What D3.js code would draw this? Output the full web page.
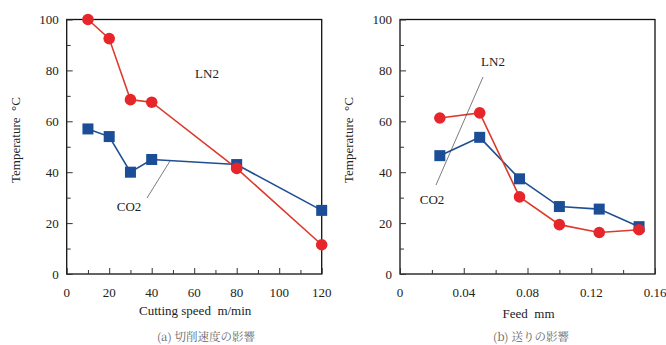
<!DOCTYPE html>
<html>
<head>
<meta charset="utf-8">
<script src="https://cdn.jsdelivr.net/npm/d3@7"></script>
<style>
  body { margin: 0; background: #fff; }
</style>
</head>
<body>
<svg width="666" height="345"></svg>
<script>
// panel (a): cutting speed
var speed = [10, 20, 30, 40, 80, 120];
var speedLN2 = [100, 92.5, 68.5, 67.5, 41.5, 11.5];
var speedCO2 = [57, 54, 40, 45, 43, 25];
var speedTicks = [0, 20, 40, 60, 80, 100, 120];

// panel (b): feed
var feed = [0.025, 0.05, 0.075, 0.1, 0.125, 0.15];
var feedLN2 = [61.3, 63.3, 30.3, 19.4, 16.3, 17.4];
var feedCO2 = [46.5, 53.7, 37.4, 26.5, 25.5, 18.6];
var feedTicks = [0, 0.04, 0.08, 0.12, 0.16];

var tempTicks = [0, 20, 40, 60, 80, 100];

var red = "#e6262a", redLine = "#dc3b2c";
var blue = "#1b4e97", blueLine = "#1f4f92";

var svg = d3.select("svg");

function txt(g) {
  return g.append("text").attr("font-family", "'Liberation Serif'")
    .attr("fill", "#222").attr("font-size", 13);
}

function panel(o) {
  var g = svg.append("g");
  var x = d3.scaleLinear().domain(o.xdom).range([o.left, o.right]);
  var y = d3.scaleLinear().domain([0, 100]).range([274, 19.5]);

  // frame
  g.append("rect")
    .attr("x", o.left).attr("y", 19.5)
    .attr("width", o.right - o.left).attr("height", 274 - 19.5)
    .attr("fill", "none").attr("stroke", "#111").attr("stroke-width", 1.3);

  // ticks pointing inward
  var yAxis = d3.axisLeft(y).tickValues(d3.range(0, 101, 10)).tickSize(-6).tickFormat("");
  g.append("g").attr("transform", "translate(" + o.left + ",0)").call(yAxis)
    .call(a => a.select(".domain").remove())
    .call(a => a.selectAll(".tick line").attr("stroke", "#333")
      .attr("x2", d => d % 20 === 0 ? 6 : 4));
  var xAxis = d3.axisBottom(x).tickValues(o.xminor).tickSize(-6).tickFormat("");
  g.append("g").attr("transform", "translate(0,274)").call(xAxis)
    .call(a => a.select(".domain").remove())
    .call(a => a.selectAll(".tick line").attr("stroke", "#333")
      .attr("y2", d => o.xticks.some(t => Math.abs(t - d) < 1e-9) ? -6 : -4));

  // tick labels
  tempTicks.forEach(d => {
    txt(g).attr("x", o.left - 8).attr("y", y(d) + 4.5)
      .attr("text-anchor", "end").text(d);
  });
  o.xticks.forEach(d => {
    txt(g).attr("x", x(d)).attr("y", 297)
      .attr("text-anchor", "middle").text(o.fmt(d));
  });

  // axis titles
  txt(g).attr("transform", "translate(" + (o.left - 47) + ",140) rotate(-90)")
    .attr("text-anchor", "middle").attr("xml:space", "preserve")
    .text("Temperature  \u00b0C");
  txt(g).attr("x", (o.left + o.right) / 2 + 1).attr("y", o.xlabY)
    .attr("text-anchor", "middle").attr("xml:space", "preserve")
    .text(o.xlabel);
  g.append("text")
    .attr("font-family", "'Noto Serif CJK JP'").attr("fill", "#666")
    .attr("x", o.capX).attr("y", 341)
    .attr("text-anchor", "middle").attr("font-size", 11.5).text(o.caption);

  var line = d3.line().x(d => x(d[0])).y(d => y(d[1]));
  var co2 = o.xs.map((v, i) => [v, o.co2[i]]);
  var ln2 = o.xs.map((v, i) => [v, o.ln2[i]]);

  g.append("path").datum(co2).attr("d", line)
    .attr("fill", "none").attr("stroke", blueLine).attr("stroke-width", 1.6);
  g.append("path").datum(ln2).attr("d", line)
    .attr("fill", "none").attr("stroke", redLine).attr("stroke-width", 1.6);

  g.selectAll(".sq").data(co2).join("rect")
    .attr("x", d => x(d[0]) - 5.5).attr("y", d => y(d[1]) - 5.5)
    .attr("width", 11).attr("height", 11).attr("fill", blue);
  g.selectAll(".ci").data(ln2).join("circle")
    .attr("cx", d => x(d[0])).attr("cy", d => y(d[1])).attr("r", 5.8)
    .attr("fill", red);

  // annotations
  o.notes.forEach(n => {
    txt(g).attr("x", n.tx).attr("y", n.ty)
      .attr("text-anchor", "middle").text(n.text);
    if (n.line) {
      g.append("line")
        .attr("x1", n.line[0]).attr("y1", n.line[1])
        .attr("x2", n.line[2]).attr("y2", n.line[3])
        .attr("stroke", "#444").attr("stroke-width", 0.7);
    }
  });
}

panel({
  xdom: [0, 120], left: 66.7, right: 321.7,
  xticks: speedTicks, xminor: d3.range(0, 121, 10),
  fmt: d => d, xs: speed, ln2: speedLN2, co2: speedCO2,
  xlabel: "Cutting speed  m/min", xlabY: 315,
  caption: "(a) 切削速度の影響", capX: 206,
  notes: [
    { text: "LN2", tx: 207, ty: 78 },
    { text: "CO2", tx: 129, ty: 211, line: [147, 198, 170, 161] }
  ]
});

panel({
  xdom: [0, 0.16], left: 400, right: 655,
  xticks: feedTicks, xminor: d3.range(0, 17, 2).map(d => d / 100),
  fmt: d => d === 0 ? "0" : d3.format(".2f")(d),
  xs: feed, ln2: feedLN2, co2: feedCO2,
  xlabel: "Feed  mm", xlabY: 318,
  caption: "(b) 送りの影響", capX: 531,
  notes: [
    { text: "LN2", tx: 493, ty: 66, line: [483, 77, 436, 185] },
    { text: "CO2", tx: 432, ty: 204 }
  ]
});
</script>
</body>
</html>
